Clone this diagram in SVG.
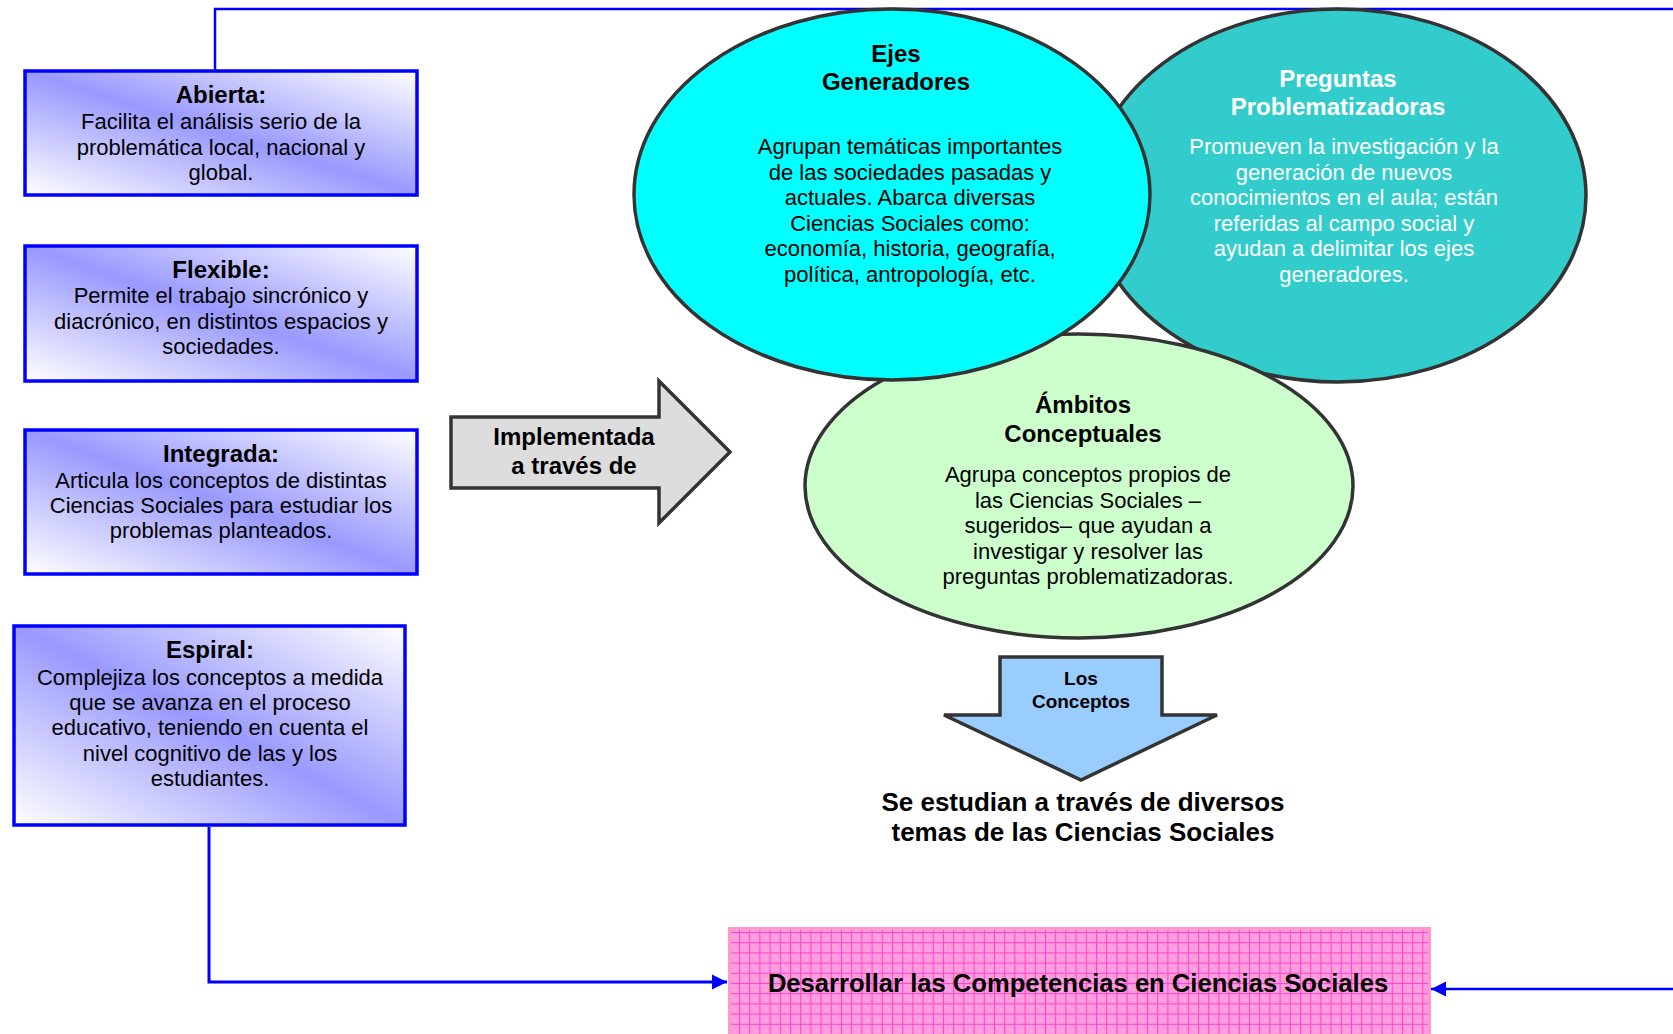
<svg xmlns="http://www.w3.org/2000/svg" width="1673" height="1034" viewBox="0 0 1673 1034">
<defs>
<style>
text{font-family:"Liberation Sans",Arial,sans-serif;text-anchor:middle;fill:#000}
.ti{font-weight:bold;font-size:24px}
.bd{font-size:22px}
.wh{fill:#fff}
.box{fill:url(#bg);stroke:#0000ff;stroke-width:3.5}
.ell{stroke:#333;stroke-width:3.5}
.shape{stroke:#333;stroke-width:3.5;stroke-linejoin:miter}
.conn{fill:none;stroke:#0000ff}
</style>
<linearGradient id="bg" x1="0" y1="1" x2="1" y2="0">
<stop offset="0" stop-color="#ffffff"/>
<stop offset="0.5" stop-color="#9999ff"/>
<stop offset="1" stop-color="#ffffff"/>
</linearGradient>
<pattern id="grid" patternUnits="userSpaceOnUse" x="739" y="932" width="10.2" height="10.2">
<rect width="10.2" height="10.2" fill="#ff9ade"/>
<rect x="2" y="2" width="2" height="2" fill="#ffb0e6"/>
<rect x="6" y="6" width="2" height="2" fill="#ffb0e6"/>
<rect x="0" y="0" width="1" height="10.2" fill="#ff44cc"/>
<rect x="0" y="0" width="10.2" height="1" fill="#ff44cc"/>
</pattern>
<marker id="ah" viewBox="0 0 10 10" refX="10" refY="5" markerUnits="userSpaceOnUse" markerWidth="15" markerHeight="16" orient="auto">
<path d="M0,0 L10,5 L0,10 Z" fill="#0000ff"/>
</marker>
</defs>

<g id="connectors">
<polyline class="conn" stroke-width="2.5" points="215,78 215,9 1680,9"/>
<polyline class="conn" stroke-width="3" points="209,827 209,982 727,982" marker-end="url(#ah)"/>
<line class="conn" stroke-width="2.5" x1="1680" y1="989" x2="1431" y2="989" marker-end="url(#ah)"/>
</g>

<g id="abierta">
<rect class="box" x="25" y="71" width="392" height="124"/>
<text class="ti" x="221" y="103">Abierta:</text>
<text class="bd" x="221" y="129">Facilita el análisis serio de la</text>
<text class="bd" x="221" y="155">problemática local, nacional y</text>
<text class="bd" x="221" y="180">global.</text>
</g>

<g id="flexible">
<rect class="box" x="25" y="246" width="392" height="135"/>
<text class="ti" x="221" y="278">Flexible:</text>
<text class="bd" x="221" y="303">Permite el trabajo sincrónico y</text>
<text class="bd" x="221" y="329">diacrónico, en distintos espacios y</text>
<text class="bd" x="221" y="354">sociedades.</text>
</g>

<g id="integrada">
<rect class="box" x="25" y="430" width="392" height="144"/>
<text class="ti" x="221" y="462">Integrada:</text>
<text class="bd" x="221" y="488">Articula los conceptos de distintas</text>
<text class="bd" x="221" y="513">Ciencias Sociales para estudiar los</text>
<text class="bd" x="221" y="538">problemas planteados.</text>
</g>

<g id="espiral">
<rect class="box" x="14" y="626" width="391" height="199"/>
<text class="ti" x="210" y="658">Espiral:</text>
<text class="bd" x="210" y="685">Complejiza los conceptos a medida</text>
<text class="bd" x="210" y="710">que se avanza en el proceso</text>
<text class="bd" x="210" y="735">educativo, teniendo en cuenta el</text>
<text class="bd" x="210" y="761">nivel cognitivo de las y los</text>
<text class="bd" x="210" y="786">estudiantes.</text>
</g>

<g id="implementada">
<polygon class="shape" fill="#dddddd" points="451,417 659,417 659,381 730,452 659,523 659,488 451,488"/>
<text class="ti" x="574" y="445">Implementada</text>
<text class="ti" x="574" y="474">a través de</text>
</g>

<g id="preguntas">
<ellipse class="ell" fill="#33cccc" cx="1338" cy="195.5" rx="248" ry="186.5"/>
<text class="ti wh" x="1338" y="87">Preguntas</text>
<text class="ti wh" x="1338" y="115">Problematizadoras</text>
<text class="bd wh" x="1344" y="154">Promueven la investigación y la</text>
<text class="bd wh" x="1344" y="179.5">generación de nuevos</text>
<text class="bd wh" x="1344" y="205">conocimientos en el aula; están</text>
<text class="bd wh" x="1344" y="230.5">referidas al campo social y</text>
<text class="bd wh" x="1344" y="256">ayudan a delimitar los ejes</text>
<text class="bd wh" x="1344" y="281.5">generadores.</text>
</g>

<g id="ambitos">
<ellipse class="ell" fill="#ccffcc" cx="1079" cy="486" rx="274" ry="152"/>
<text class="ti" x="1083" y="413">Ámbitos</text>
<text class="ti" x="1083" y="442">Conceptuales</text>
<text class="bd" x="1088" y="482">Agrupa conceptos propios de</text>
<text class="bd" x="1088" y="507.5">las Ciencias Sociales –</text>
<text class="bd" x="1088" y="533">sugeridos– que ayudan a</text>
<text class="bd" x="1088" y="558.5">investigar y resolver las</text>
<text class="bd" x="1088" y="584">preguntas problematizadoras.</text>
</g>

<g id="ejes">
<ellipse class="ell" fill="#00ffff" cx="892" cy="194.5" rx="258" ry="185.5"/>
<text class="ti" x="896" y="62">Ejes</text>
<text class="ti" x="896" y="90">Generadores</text>
<text class="bd" x="910" y="154">Agrupan temáticas importantes</text>
<text class="bd" x="910" y="179.5">de las sociedades pasadas y</text>
<text class="bd" x="910" y="205">actuales. Abarca diversas</text>
<text class="bd" x="910" y="230.5">Ciencias Sociales como:</text>
<text class="bd" x="910" y="256">economía, historia, geografía,</text>
<text class="bd" x="910" y="281.5">política, antropología, etc.</text>
</g>

<g id="los-conceptos">
<polygon class="shape" fill="#99ccff" points="1000,657 1162,657 1162,715 1217,715 1081,780 944,715 1000,715"/>
<text x="1081" y="685" style="font-weight:bold;font-size:19px">Los</text>
<text x="1081" y="708" style="font-weight:bold;font-size:19px">Conceptos</text>
</g>

<g id="se-estudian">
<text x="1083" y="811" style="font-weight:bold;font-size:26px">Se estudian a través de diversos</text>
<text x="1083" y="841" style="font-weight:bold;font-size:26px">temas de las Ciencias Sociales</text>
</g>

<g id="desarrollar">
<rect x="729.5" y="928.5" width="700" height="110" fill="url(#grid)" stroke="#ff99cc" stroke-width="3"/>
<text x="1078" y="992" style="font-weight:bold;font-size:25.6px">Desarrollar las Competencias en Ciencias Sociales</text>
</g>
</svg>
